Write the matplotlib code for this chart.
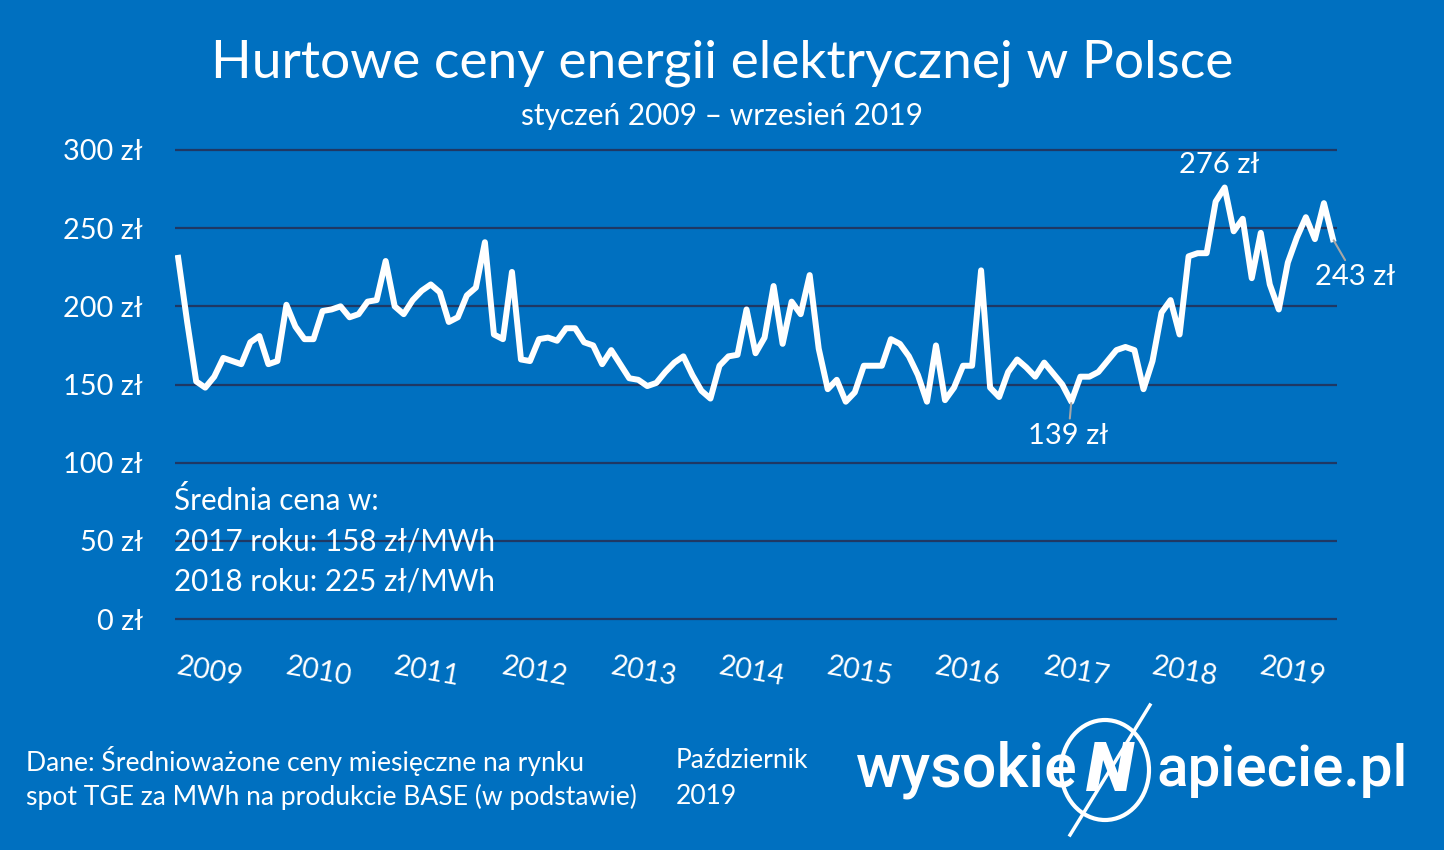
import matplotlib.pyplot as plt
from matplotlib.patches import Ellipse
from matplotlib.lines import Line2D
import numpy as np

W, H = 1444, 850
BG = '#0070C0'
GRID = '#1F3864'
LEADER = '#A6A6A6'

# miesięczne ceny (zł/MWh), styczeń 2009 - wrzesień 2019
prices = [231, 190, 152, 148, 155, 167, 165, 163, 177, 181, 163, 165,
          201, 187, 179, 179, 197, 198, 200, 193, 195, 203, 204, 229,
          200, 195, 204, 210, 214, 209, 190, 193, 207, 212, 241, 182,
          179, 222, 166, 165, 179, 180, 178, 186, 186, 177, 175, 163,
          172, 163, 154, 153, 149, 151, 158, 164, 168, 156, 146, 141,
          162, 168, 169, 198, 170, 180, 213, 176, 203, 195, 220, 173,
          147, 153, 139, 145, 162, 162, 162, 179, 176, 168, 156, 139,
          175, 140, 148, 162, 162, 223, 148, 142, 158, 166, 161, 155,
          164, 157, 150, 139, 155, 155, 158, 165, 172, 174, 172, 147,
          165, 196, 204, 182, 232, 234, 234, 267, 276, 248, 256, 218,
          247, 214, 198, 228, 244, 257, 243, 266, 243]
years = [str(y) for y in range(2009, 2020)]
y_ticks = [0, 50, 100, 150, 200, 250, 300]

# (indeks miesiąca, etykieta, przesunięcie w px, linia odniesienia)
callouts = [(116, '276 zł', (-5, 23), False),
            (99, '139 zł', (-3, -34), True),
            (128, '243 zł', (22, -38), True)]

plt.rcParams['font.family'] = ['Lato', 'DejaVu Sans']


def fx(px):
    return px / W


def fy(py):
    return 1 - py / H


fig = plt.figure(figsize=(W / 100, H / 100), dpi=100, facecolor=BG)
ax = fig.add_axes([fx(175), fy(619), fx(1337 - 175), (619 - 150) / H])
ax.set_facecolor(BG)
for s in ax.spines.values():
    s.set_visible(False)

months = np.arange(len(prices))
ax.hlines(y_ticks, -0.35, 128.45, color=GRID, lw=1.6, clip_on=False, zorder=1)
ax.plot(months, prices, color='white', lw=4.3, solid_joinstyle='round', zorder=3)
ax.set_xlim(-0.35, 128.45)
ax.set_ylim(0, 300)
ax.set_xticks([])
ax.set_yticks(y_ticks)
ax.set_yticklabels([f'{v} zł' for v in y_ticks], color='white', fontsize=20.8)
ax.tick_params(axis='y', length=0, pad=23)

for i, yr in enumerate(years):
    ax.text(12 * i + 3.55, -34, yr, rotation=-10, ha='center', va='center',
            color='white', fontsize=20.5, clip_on=False)

for idx, label, off, lead in callouts:
    arrow = dict(arrowstyle='-', color=LEADER, lw=1.5, shrinkA=1, shrinkB=1) if lead else None
    ax.annotate(label, xy=(idx, prices[idx]), xytext=off, textcoords='offset pixels',
                ha='center', va='center', color='white', fontsize=21,
                arrowprops=arrow, zorder=4)

# tytuł
fig.text(fx(722), fy(63), 'Hurtowe ceny energii elektrycznej w Polsce', ha='center', va='center',
         color='white', fontsize=38.4)
fig.text(fx(722), fy(116), 'styczeń 2009 – wrzesień 2019', ha='center', va='center',
         color='white', fontsize=21.5)

# średnie
for py, txt in [(501, 'Średnia cena w:'), (541, '2017 roku: 158 zł/MWh'), (581, '2018 roku: 225 zł/MWh')]:
    fig.text(fx(174), fy(py), txt, ha='left', va='center', color='white', fontsize=21.3)

# stopka
fig.text(fx(26), fy(761), 'Dane: Średnioważone ceny miesięczne na rynku', ha='left', va='center',
         color='white', fontsize=19.1)
fig.text(fx(26), fy(797), 'spot TGE za MWh na produkcie BASE (w podstawie)', ha='left', va='center',
         color='white', fontsize=19.1)
fig.text(fx(676), fy(761), 'Październik', ha='left', va='center', color='white', fontsize=19.1)
fig.text(fx(676), fy(797), '2019', ha='left', va='center', color='white', fontsize=19.1)

# logo
fig.text(fx(856), fy(770), 'wysokie', ha='left', va='center', color='white', fontsize=44,
         family='Roboto', fontweight='medium')
fig.text(fx(1156), fy(770), 'apiecie.pl', ha='left', va='center', color='white', fontsize=42,
         family='Roboto', fontweight='medium')
fig.patches.append(Ellipse((fx(1105), fy(770)), 88 / W, 100 / H, transform=fig.transFigure,
                           fill=False, ec='white', lw=3))
fig.text(fx(1110), fy(772), 'N', ha='center', va='center', color='white', fontsize=50,
         family='Roboto', fontweight='black', style='italic')
fig.lines.append(Line2D([fx(1150), fx(1070)], [fy(705), fy(835)], transform=fig.transFigure,
                        color='white', lw=2.5))

fig.savefig('out.png', dpi=100, facecolor=BG)
